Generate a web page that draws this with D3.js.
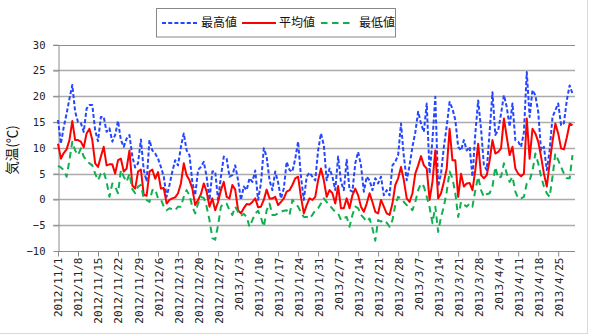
<!DOCTYPE html>
<html>
<head>
<meta charset="utf-8">
<script src="https://cdn.jsdelivr.net/npm/d3@7"></script>
<style>
  body { margin: 0; background: #fff; }
  svg { display: block; }
</style>
</head>
<body>
<svg id="chart" width="589" height="335"></svg>
<script>
// Daily temperatures, 2012/11/1 - 2013/4/30 (°C)
const seriesNames = ["最高値", "平均値", "最低値"];
const firstDay = "2012/11/1";
const lastDay = "2013/4/30";
const tickLabels = [
  "2012/11/1", "2012/11/8", "2012/11/15", "2012/11/22", "2012/11/29",
  "2012/12/6", "2012/12/13", "2012/12/20", "2012/12/27",
  "2013/1/3", "2013/1/10", "2013/1/17", "2013/1/24", "2013/1/31",
  "2013/2/7", "2013/2/14", "2013/2/21", "2013/2/28",
  "2013/3/7", "2013/3/14", "2013/3/21", "2013/3/28",
  "2013/4/4", "2013/4/11", "2013/4/18", "2013/4/25"
];
const yTicks = [30, 25, 20, 15, 10, 5, 0, -5, -10];

const maxTemp = [
  15.4, 10.8, 14.0, 16.6, 19.5, 22.2, 17.0, 15.0, 14.8, 13.1,
  17.6, 18.3, 18.3, 13.4, 11.3, 16.0, 16.0, 13.1, 13.8, 11.2,
  12.5, 15.2, 11.5, 10.2, 11.8, 12.5, 8.3, 6.2, 7.0, 11.6,
  5.7, 3.5, 11.5, 9.5, 8.9, 7.9, 6.3, 4.4, 0.5, 2.8,
  5.4, 7.6, 6.6, 10.2, 12.8, 9.5, 8.6, 3.4, 0.8, 5.7,
  6.3, 7.3, 4.4, -0.1, 5.4, 5.4, -0.1, 4.4, 8.3, 7.9,
  4.4, 4.7, 6.6, 3.7, -0.1, 2.5, 1.8, 4.1, 3.4, 5.6,
  -0.1, 3.1, 9.9, 8.3, 3.7, 1.8, 5.4, 3.3, 0.2, 2.1,
  7.3, 5.7, 5.4, 7.9, 11.2, 4.4, -0.1, 4.4, 5.2, 4.4,
  3.7, 9.5, 12.8, 10.5, 3.7, 6.0, 4.4, 1.8, 8.3, 3.4,
  1.8, 7.7, 1.8, 1.5, 7.0, 9.2, 6.6, 1.5, 4.4, 3.7,
  1.8, 4.1, 3.1, 4.4, 0.8, 1.8, 0.8, 6.6, 7.3, 8.6,
  14.7, 8.3, 3.7, 6.6, 10.2, 13.0, 17.0, 14.7, 13.1, 18.6,
  5.0, 11.5, 19.9, 2.5, 5.0, 10.2, 14.2, 18.9, 17.6, 15.4,
  10.2, 9.5, 11.5, 9.5, 10.2, 4.4, 12.8, 19.2, 13.7, 6.6,
  5.7, 13.0, 20.8, 12.5, 13.4, 16.6, 20.2, 17.9, 14.1, 18.6,
  11.5, 11.2, 10.2, 13.0, 24.7, 16.0, 21.2, 20.2, 17.0, 9.5,
  10.2, 5.7, 9.5, 16.0, 17.3, 18.6, 14.4, 14.8, 19.2, 22.1, 20.5
];

const meanTemp = [
  10.8, 7.9, 9.0, 9.7, 11.5, 15.2, 11.5, 11.5, 11.2, 10.1,
  12.8, 13.7, 11.5, 7.0, 6.3, 8.3, 10.2, 6.6, 6.8, 6.8,
  5.0, 7.6, 7.9, 5.4, 6.0, 9.5, 2.7, 2.1, 5.4, 5.8,
  0.9, 0.7, 5.4, 5.8, 4.0, 5.3, 2.1, 2.2, -0.8, -0.1,
  0.2, 0.4, 1.2, 3.1, 7.0, 4.7, 3.7, 2.1, -1.1, -0.1,
  1.0, 3.1, 1.5, -1.4, 0.2, -2.1, -0.5, 1.8, 3.4, 0.5,
  0.2, 2.8, 1.9, -2.1, -2.7, -1.7, -0.9, -1.0, -0.5, 0.2,
  -1.5, -1.4, -0.1, 1.9, 0.2, 0.2, 0.5, -1.1, -0.5, 0.2,
  1.5, 1.8, 2.8, 4.1, 4.4, 0.5, -2.7, -1.1, 0.2, -0.1,
  0.5, 3.7, 6.0, 3.7, 0.5, 1.8, 1.2, -0.8, 2.6, -1.7,
  -1.7, 0.2, -1.7, 0.8, 2.1, 0.8, -1.4, -2.4, -0.8, 1.2,
  -0.5, -2.4, -2.7, -0.1, -1.4, -2.7, -3.0, -0.8, 2.8, 4.1,
  6.3, 3.7, 0.2, -0.5, 1.2, 5.0, 6.6, 8.4, 6.6, 6.0,
  -0.1, 3.4, 9.5, 0.2, 1.2, 3.4, 6.0, 13.7, 7.6, 7.6,
  0.5, 5.0, 2.5, 3.1, 3.2, 1.8, 5.7, 10.8, 4.7, 4.1,
  4.7, 7.5, 11.5, 8.9, 9.2, 9.9, 15.7, 12.1, 8.6, 10.2,
  6.0, 5.0, 4.5, 5.0, 15.7, 7.9, 13.7, 12.8, 11.2, 8.3,
  5.0, 2.5, 7.0, 11.2, 14.7, 12.8, 9.9, 9.7, 12.0, 14.7, 14.4
];

const minTemp = [
  6.5, 6.2, 5.7, 4.4, 7.6, 11.2, 9.5, 8.6, 9.9, 8.3,
  7.6, 7.0, 6.6, 5.0, 3.7, 5.0, 5.4, 3.4, 0.5, 3.1,
  2.5, 1.2, 5.7, 4.4, 3.4, 5.0, 2.0, 1.2, 2.5, 2.8,
  0.2, -0.1, -0.5, 1.8, 2.0, 0.2, 0.0, -1.4, -2.1, -1.7,
  -1.9, -2.1, -1.4, -1.4, 0.5, 1.8, 0.8, -1.4, -2.7, -0.8,
  0.5, 0.3, -1.4, -4.0, -7.5, -7.8, -5.0, -1.4, -0.8, -0.8,
  -2.1, -3.0, -1.4, -2.4, -3.2, -2.8, -3.4, -5.3, -4.0, -2.7,
  -2.2, -3.5, -5.3, -2.1, -0.8, -3.0, -3.0, -2.7, -2.4, -2.2,
  -2.1, -3.0, -0.1, -0.8, -1.4, -2.5, -3.4, -3.4, -3.7, -3.0,
  -2.1, -1.7, -0.8, 0.2, -0.5, -1.1, -1.8, -2.4, -2.7, -4.0,
  -3.6, -3.4, -5.3, -3.0, -1.4, -1.7, -3.0, -3.6, -4.3, -3.7,
  -5.6, -8.0, -4.0, -4.3, -4.0, -4.5, -5.3, -4.0, -1.1, 0.5,
  0.2, -0.5, -1.1, -1.4, -2.1, -0.5, 1.8, 3.1, 2.5, 0.5,
  -1.5, -4.6, -1.4, -6.3, -3.4, -1.4, 1.5, 5.4, 4.1, 1.2,
  -3.4, -0.5, -1.0, -1.4, -0.8, -1.4, 1.8, 4.4, 1.8, 0.5,
  1.0, 1.2, 2.5, 6.3, 4.1, 4.4, 7.0, 5.0, 3.4, 4.4,
  1.5, 0.2, 0.2, 0.5, 3.1, 3.7, 5.5, 8.9, 7.0, 4.5,
  2.5, 1.2, 0.5, 4.4, 8.9, 7.6, 6.3, 5.0, 4.1, 4.1, 8.6
];

const parseDay = d3.timeParse("%Y/%m/%d");
const days = d3.timeDay.range(parseDay(firstDay), d3.timeDay.offset(parseDay(lastDay), 1));
const tickDates = tickLabels.map(parseDay);

const series = [
  { name: seriesNames[0], values: maxTemp,  color: "#2446ff", width: 2, dash: "4,2.2" },
  { name: seriesNames[1], values: meanTemp, color: "#ff0000", width: 2, dash: null },
  { name: seriesNames[2], values: minTemp,  color: "#10b050", width: 2, dash: "6.5,4.5" }
];

const svg = d3.select("#chart");
const plotLeft = 58, plotRight = 575, plotTop = 44.7, plotBottom = 251;
const tickFont = "'DejaVu Sans Mono', monospace";

const x = d3.scaleTime()
  .domain([days[0], days[days.length - 1]])
  .range([plotLeft, 572.5]);
const y = d3.scaleLinear().domain([-10, 30]).range([plotBottom, plotTop]);

// chart area frame
svg.append("rect")
  .attr("x", -1).attr("y", -1).attr("width", 588.5).attr("height", 334.5)
  .attr("fill", "none").attr("stroke", "#d9d9d9");

// horizontal gridlines
svg.append("g").selectAll("line")
  .data(yTicks.filter(v => v !== -10))
  .join("line")
  .attr("x1", plotLeft - 5).attr("x2", plotRight)
  .attr("y1", d => Math.round(y(d)) + 0.5).attr("y2", d => Math.round(y(d)) + 0.5)
  .attr("stroke", d => d === 30 ? "#8c8c8c" : "#ababab")
  .attr("stroke-width", d => d === 30 ? 1 : 1.6);

// y axis
const yAxis = svg.append("g")
  .attr("transform", `translate(${plotLeft + 0.5},0)`)
  .call(d3.axisLeft(y).tickValues(yTicks).tickSize(5).tickSizeOuter(0).tickPadding(8));
yAxis.select(".domain").attr("stroke", "#8c8c8c");
yAxis.selectAll(".tick line").attr("stroke", "#8c8c8c");
yAxis.selectAll("text")
  .attr("fill", "#222")
  .style("font-family", tickFont)
  .style("font-size", "10.5px");

// x axis
const xAxis = svg.append("g")
  .attr("transform", `translate(0,${Math.round(plotBottom) + 0.5})`)
  .call(d3.axisBottom(x).tickValues(tickDates).tickFormat((d, i) => tickLabels[i])
    .tickSize(5).tickSizeOuter(0));
xAxis.select(".domain").attr("d", `M${plotLeft},0H${plotRight}`).attr("stroke", "#8c8c8c");
xAxis.selectAll(".tick line").attr("stroke", "#8c8c8c");
xAxis.selectAll("text")
  .attr("transform", "rotate(-90)")
  .attr("x", -6).attr("y", 0).attr("dy", "0.36em")
  .attr("fill", "#222")
  .style("text-anchor", "end")
  .style("font-family", tickFont)
  .style("font-size", "11px");

// y axis title
svg.append("text")
  .attr("transform", "translate(17,150) rotate(-90)")
  .attr("text-anchor", "middle")
  .style("font-family", "'Noto Sans CJK JP', sans-serif")
  .style("font-size", "13.5px")
  .attr("fill", "#111")
  .text("気温(℃)");

// series lines
const line = d3.line()
  .x((d, i) => x(days[i]))
  .y(d => y(d));

svg.append("g").selectAll("path")
  .data(series)
  .join("path")
  .attr("d", s => line(s.values))
  .attr("fill", "none")
  .attr("stroke", s => s.color)
  .attr("stroke-width", s => s.width)
  .attr("stroke-dasharray", s => s.dash)
  .attr("stroke-linejoin", "round");

// legend
const legend = svg.append("g");
legend.append("rect")
  .attr("x", 156.5).attr("y", 8.5).attr("width", 239).attr("height", 28.5)
  .attr("fill", "#fff").attr("stroke", "#888");
const legendItems = [
  { sx: 162, ex: 197, tx: 201 },
  { sx: 242, ex: 276, tx: 279 },
  { sx: 321, ex: 352, tx: 359 }
];
legendItems.forEach((p, i) => {
  const s = series[i];
  legend.append("line")
    .attr("x1", p.sx).attr("x2", p.ex).attr("y1", 23).attr("y2", 23)
    .attr("stroke", s.color).attr("stroke-width", s.width)
    .attr("stroke-dasharray", s.dash);
  legend.append("text")
    .attr("x", p.tx).attr("y", 23).attr("dy", "0.36em")
    .style("font-family", "'Noto Sans CJK JP', sans-serif")
    .style("font-size", "12px")
    .attr("fill", "#111")
    .text(s.name);
});
</script>
</body>
</html>
